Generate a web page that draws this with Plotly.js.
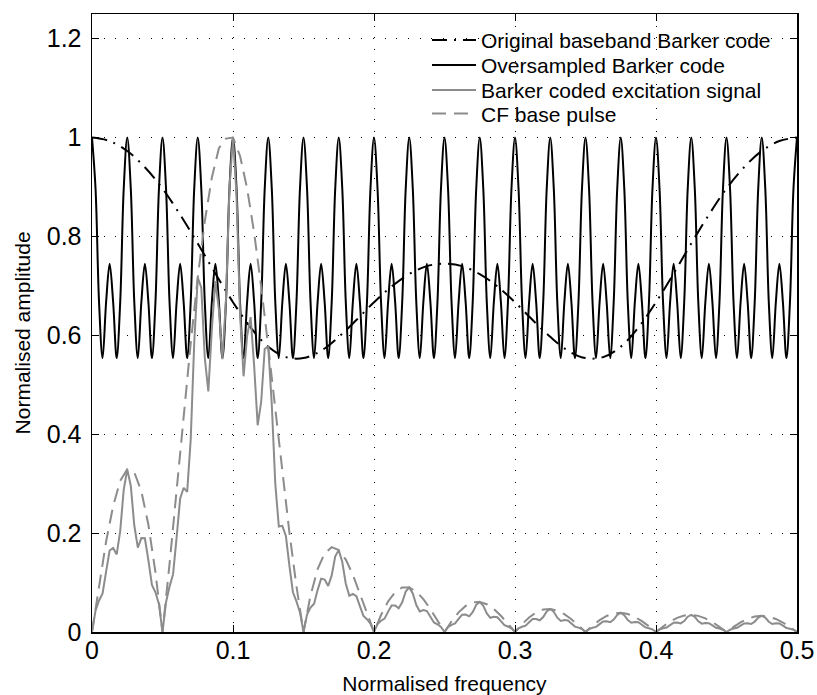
<!DOCTYPE html>
<html>
<head>
<meta charset="utf-8">
<script src="https://cdn.plot.ly/plotly-3.0.1.min.js"></script>
<style>
  html, body { margin: 0; padding: 0; background: #ffffff; }
  #chart { width: 817px; height: 695px; }
</style>
</head>
<body>
<div id="chart"></div>
<script>
// Normalised frequency grid: every series starts at 0 with a fixed step.
const freqStart = 0;
const basebandStep = 0.0125;   // original baseband Barker code
const fineStep = 0.0025;       // oversampled code and excitation signal
const pulseStep = 0.005;       // CF base pulse

// Original baseband Barker code, normalised amplitude
const basebandBarker = [
  1.000, 0.993, 0.973, 0.940, 0.897, 0.844, 0.786, 0.725, 0.667, 0.616,
  0.577, 0.556, 0.554, 0.569, 0.597, 0.631, 0.667, 0.699, 0.724, 0.740,
  0.745, 0.740, 0.724, 0.699, 0.667, 0.631, 0.597, 0.569, 0.554, 0.556,
  0.577, 0.616, 0.667, 0.725, 0.786, 0.844, 0.897, 0.940, 0.973, 0.993,
  1.000
];

// Oversampled Barker code
const oversampledBarker = [
  1, 0.897, 0.667, 0.554, 0.667, 0.745, 0.667, 0.554, 0.667, 0.897,
  1, 0.897, 0.667, 0.554, 0.667, 0.745, 0.667, 0.554, 0.667, 0.897,
  1, 0.897, 0.667, 0.554, 0.667, 0.745, 0.667, 0.554, 0.667, 0.897,
  1, 0.897, 0.667, 0.554, 0.667, 0.745, 0.667, 0.554, 0.667, 0.897,
  1, 0.897, 0.667, 0.554, 0.667, 0.745, 0.667, 0.554, 0.667, 0.897,
  1, 0.897, 0.667, 0.554, 0.667, 0.745, 0.667, 0.554, 0.667, 0.897,
  1, 0.897, 0.667, 0.554, 0.667, 0.745, 0.667, 0.554, 0.667, 0.897,
  1, 0.897, 0.667, 0.554, 0.667, 0.745, 0.667, 0.554, 0.667, 0.897,
  1, 0.897, 0.667, 0.554, 0.667, 0.745, 0.667, 0.554, 0.667, 0.897,
  1, 0.897, 0.667, 0.554, 0.667, 0.745, 0.667, 0.554, 0.667, 0.897,
  1, 0.897, 0.667, 0.554, 0.667, 0.745, 0.667, 0.554, 0.667, 0.897,
  1, 0.897, 0.667, 0.554, 0.667, 0.745, 0.667, 0.554, 0.667, 0.897,
  1, 0.897, 0.667, 0.554, 0.667, 0.745, 0.667, 0.554, 0.667, 0.897,
  1, 0.897, 0.667, 0.554, 0.667, 0.745, 0.667, 0.554, 0.667, 0.897,
  1, 0.897, 0.667, 0.554, 0.667, 0.745, 0.667, 0.554, 0.667, 0.897,
  1, 0.897, 0.667, 0.554, 0.667, 0.745, 0.667, 0.554, 0.667, 0.897,
  1, 0.897, 0.667, 0.554, 0.667, 0.745, 0.667, 0.554, 0.667, 0.897,
  1, 0.897, 0.667, 0.554, 0.667, 0.745, 0.667, 0.554, 0.667, 0.897,
  1, 0.897, 0.667, 0.554, 0.667, 0.745, 0.667, 0.554, 0.667, 0.897,
  1, 0.897, 0.667, 0.554, 0.667, 0.745, 0.667, 0.554, 0.667, 0.897,
  1
];

// Barker coded excitation signal
const excitationSignal = [
  0, 0.0432, 0.0637, 0.0781, 0.1221, 0.1648, 0.1700, 0.1569, 0.2040, 0.2879,
  0.3290, 0.2959, 0.2154, 0.1705, 0.1900, 0.1895, 0.1447, 0.0953, 0.0804, 0.0562,
  0, 0.0602, 0.0918, 0.1170, 0.1908, 0.2696, 0.2917, 0.2834, 0.3892, 0.5850,
  0.7168, 0.6967, 0.5541, 0.4867, 0.6132, 0.7098, 0.6527, 0.5518, 0.6707, 0.8990,
  1.0000, 0.8835, 0.6423, 0.5172, 0.5985, 0.6369, 0.5384, 0.4181, 0.4658, 0.5729,
  0.5767, 0.4604, 0.2995, 0.2133, 0.2148, 0.1941, 0.1343, 0.0804, 0.0618, 0.0396,
  0, 0.0354, 0.0494, 0.0572, 0.0847, 0.1080, 0.1061, 0.0930, 0.1145, 0.1531,
  0.1656, 0.1415, 0.0976, 0.0732, 0.0772, 0.0726, 0.0524, 0.0325, 0.0258, 0.0170,
  0, 0.0161, 0.0229, 0.0271, 0.0412, 0.0538, 0.0538, 0.0479, 0.0601, 0.0819,
  0.0901, 0.0780, 0.0546, 0.0415, 0.0444, 0.0424, 0.0309, 0.0194, 0.0156, 0.0104,
  0, 0.0100, 0.0145, 0.0173, 0.0265, 0.0350, 0.0352, 0.0317, 0.0400, 0.0549,
  0.0609, 0.0532, 0.0375, 0.0288, 0.0309, 0.0298, 0.0219, 0.0139, 0.0111, 0.0074,
  0, 0.0073, 0.0106, 0.0127, 0.0196, 0.0261, 0.0264, 0.0238, 0.0303, 0.0417,
  0.0466, 0.0408, 0.0289, 0.0223, 0.0241, 0.0233, 0.0171, 0.0109, 0.0089, 0.0059,
  0, 0.0058, 0.0085, 0.0104, 0.0160, 0.0213, 0.0216, 0.0197, 0.0250, 0.0346,
  0.0388, 0.0341, 0.0243, 0.0188, 0.0204, 0.0197, 0.0146, 0.0093, 0.0076, 0.0051,
  0, 0.0051, 0.0074, 0.0090, 0.0139, 0.0187, 0.0191, 0.0173, 0.0221, 0.0309,
  0.0346, 0.0306, 0.0217, 0.0169, 0.0184, 0.0179, 0.0133, 0.0085, 0.0069, 0.0047,
  0, 0.0047, 0.0069, 0.0084, 0.0130, 0.0174, 0.0178, 0.0162, 0.0209, 0.0291,
  0.0327, 0.0290, 0.0207, 0.0161, 0.0176, 0.0172, 0.0128, 0.0082, 0.0067, 0.0046,
  0
];

// CF base pulse
const basePulse = [
  0, 0.0955, 0.1831, 0.2548, 0.3058, 0.3290, 0.3229, 0.2848, 0.2169, 0.1205,
  0, 0.1377, 0.2861, 0.4373, 0.5835, 0.7168, 0.8308, 0.9193, 0.9785, 0.9980,
  1.0000, 0.9629, 0.8973, 0.8072, 0.6983, 0.5767, 0.4491, 0.3220, 0.2013, 0.0926,
  0, 0.0740, 0.1270, 0.1590, 0.1716, 0.1656, 0.1464, 0.1158, 0.0785, 0.0387,
  0, 0.0343, 0.0617, 0.0806, 0.0901, 0.0901, 0.0819, 0.0665, 0.0463, 0.0234,
  0, 0.0217, 0.0398, 0.0528, 0.0599, 0.0609, 0.0562, 0.0464, 0.0328, 0.0167,
  0, 0.0159, 0.0294, 0.0396, 0.0454, 0.0466, 0.0434, 0.0362, 0.0257, 0.0133,
  0, 0.0128, 0.0240, 0.0324, 0.0375, 0.0388, 0.0364, 0.0306, 0.0219, 0.0114,
  0, 0.0111, 0.0209, 0.0286, 0.0332, 0.0346, 0.0326, 0.0276, 0.0199, 0.0104,
  0, 0.0103, 0.0195, 0.0267, 0.0313, 0.0327, 0.0311, 0.0264, 0.0192, 0.0100,
  0
];

const seriesNames = [
  'Original baseband Barker code',
  'Oversampled Barker code',
  'Barker coded excitation signal',
  'CF base pulse'
];

const xTicks = [0, 0.1, 0.2, 0.3, 0.4, 0.5];
const yTicks = [0, 0.2, 0.4, 0.6, 0.8, 1, 1.2];

const GREY = '#8c8c8c';
const FONT = 'Liberation Sans, Arial, Helvetica, sans-serif';

const traces = [
  {
    type: 'scatter', mode: 'lines', name: seriesNames[0], legend: 'legend',
    x0: freqStart, dx: basebandStep, y: basebandBarker,
    line: { color: '#000000', width: 2, dash: '15px,7px,2px,7px', shape: 'spline' }
  },
  {
    type: 'scatter', mode: 'lines', name: seriesNames[1], legend: 'legend2',
    x0: freqStart, dx: fineStep, y: oversampledBarker,
    line: { color: '#000000', width: 2, shape: 'spline' }
  },
  {
    type: 'scatter', mode: 'lines', name: seriesNames[2], legend: 'legend3',
    x0: freqStart, dx: fineStep, y: excitationSignal,
    line: { color: GREY, width: 2 }
  },
  {
    type: 'scatter', mode: 'lines', name: seriesNames[3], legend: 'legend4',
    x0: freqStart, dx: pulseStep, y: basePulse,
    line: { color: GREY, width: 2, dash: '14px,8px' }
  }
];

// One single-entry legend per series keeps the rows tightly stacked.
function legendAt(y) {
  return {
    x: 0.4752, xanchor: 'left', y: y, yanchor: 'middle',
    bgcolor: 'rgba(0,0,0,0)', borderwidth: 0,
    font: { family: FONT, size: 21, color: '#000' },
    itemwidth: 44
  };
}

const axisCommon = {
  showline: true, linecolor: '#000', linewidth: 1.5, mirror: 'ticks',
  ticks: 'inside', ticklen: 7, tickwidth: 1, tickcolor: '#000',
  showgrid: true, gridcolor: '#000', gridwidth: 1, griddash: '1px,10.7px',
  zeroline: false,
  tickfont: { family: FONT, size: 25, color: '#000' }
};

const layout = {
  width: 817, height: 695,
  margin: { l: 92, r: 20, t: 14, b: 63 },
  paper_bgcolor: '#ffffff', plot_bgcolor: '#ffffff',
  font: { family: FONT, color: '#000' },
  xaxis: Object.assign({}, axisCommon, {
    range: [0, 0.5], tickmode: 'array', tickvals: xTicks,
    ticklabelstandoff: -5,
    title: { text: 'Normalised frequency', font: { family: FONT, size: 21, color: '#000' }, standoff: 17 }
  }),
  yaxis: Object.assign({}, axisCommon, {
    range: [0, 1.25], tickmode: 'array', tickvals: yTicks,
    ticklabelstandoff: 4
  }),
  annotations: [{
    text: 'Normalised amplitude', textangle: -90,
    xref: 'paper', yref: 'paper', x: -0.098, y: 0.4846,
    xanchor: 'center', yanchor: 'middle', showarrow: false,
    font: { family: FONT, size: 21, color: '#000' }
  }],
  showlegend: true,
  legend: legendAt(0.9574),
  legend2: legendAt(0.9169),
  legend3: legendAt(0.8765),
  legend4: legendAt(0.8383)
};

Plotly.newPlot('chart', traces, layout, { displayModeBar: false, staticPlot: true });
</script>
</body>
</html>
